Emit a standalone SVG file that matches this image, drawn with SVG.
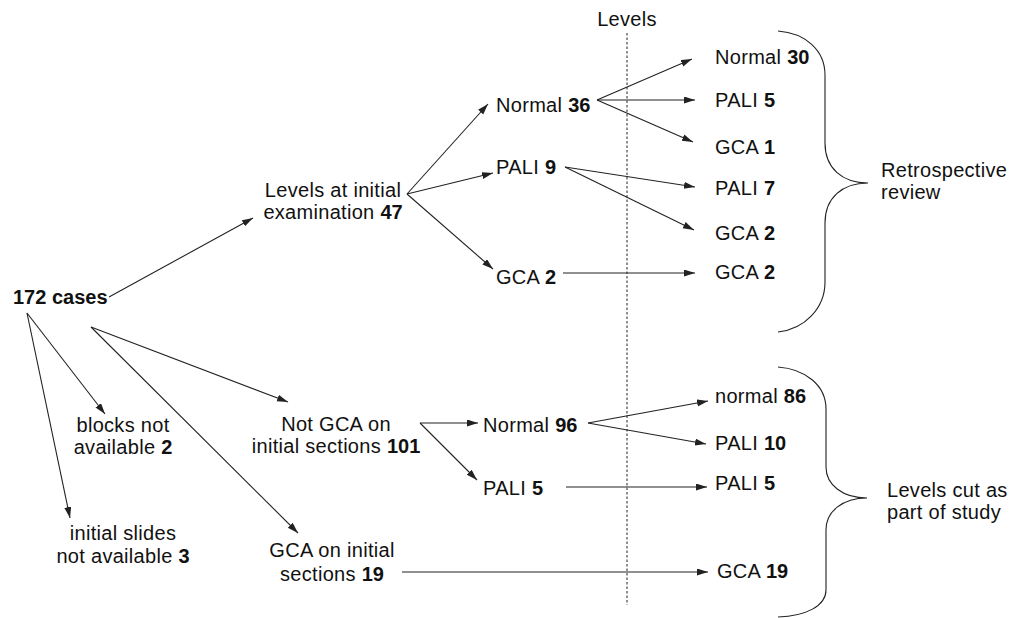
<svg xmlns="http://www.w3.org/2000/svg" width="1016" height="618" viewBox="0 0 1016 618">
<style>
text{font-family:"Liberation Sans",Arial,sans-serif;font-size:20px;fill:#111;letter-spacing:0.3px}
.b{font-weight:bold;letter-spacing:0}
.m{text-anchor:middle}
.c line{stroke:#222;stroke-width:1.1;marker-end:url(#ah)}
.brace{fill:none;stroke:#222;stroke-width:1.1}
</style>
<defs>
<marker id="ah" markerUnits="userSpaceOnUse" markerWidth="12" markerHeight="8" refX="11" refY="3.5" orient="auto">
<path d="M0,0 L11,3.5 L0,7 z" fill="#222"/>
</marker>
</defs>
<rect width="1016" height="618" fill="#fff"/>
<g id="levels-divider">
<line x1="627" y1="33" x2="627" y2="605" stroke="#222" stroke-width="1" stroke-dasharray="2.5 2"/>
<text x="627" y="26" class="m">Levels</text>
</g>
<g class="c" id="connectors">
<line x1="109" y1="297" x2="253" y2="218"/>
<line x1="27" y1="313" x2="105" y2="414"/>
<line x1="27" y1="313" x2="70" y2="518"/>
<line x1="91" y1="327" x2="288" y2="402"/>
<line x1="91" y1="327" x2="298" y2="533"/>
<line x1="407" y1="194" x2="488" y2="104"/>
<line x1="407" y1="194" x2="493" y2="173"/>
<line x1="407" y1="194" x2="493" y2="269"/>
<line x1="597" y1="100" x2="692" y2="59"/>
<line x1="597" y1="100" x2="695" y2="100"/>
<line x1="597" y1="100" x2="693" y2="142"/>
<line x1="565" y1="167" x2="695" y2="187"/>
<line x1="565" y1="167" x2="694" y2="230"/>
<line x1="563" y1="273" x2="695" y2="273"/>
<line x1="420" y1="423" x2="478" y2="423"/>
<line x1="420" y1="423" x2="477" y2="480"/>
<line x1="588" y1="423" x2="708" y2="401"/>
<line x1="588" y1="423" x2="706" y2="444"/>
<line x1="566" y1="487" x2="707" y2="487"/>
<line x1="402" y1="572" x2="708" y2="572"/>
</g>
<g id="n-cases"><text x="13" y="304" class="b">172 cases</text></g>
<g id="n-blocks"><text x="123" y="432" class="m">blocks not</text><text x="123" y="454" class="m">available <tspan class="b">2</tspan></text></g>
<g id="n-slides"><text x="123" y="540" class="m">initial slides</text><text x="123" y="563" class="m">not available <tspan class="b">3</tspan></text></g>
<g id="n-levels-initial"><text x="333" y="197" class="m">Levels at initial</text><text x="333" y="219" class="m">examination <tspan class="b">47</tspan></text></g>
<g id="n-not-gca"><text x="336" y="431" class="m">Not GCA on</text><text x="336" y="453" class="m">initial sections <tspan class="b">101</tspan></text></g>
<g id="n-gca-initial"><text x="332" y="557" class="m">GCA on initial</text><text x="332" y="581" class="m">sections <tspan class="b">19</tspan></text></g>
<g id="n-normal36"><text x="496" y="112">Normal <tspan class="b">36</tspan></text></g>
<g id="n-pali9"><text x="496" y="174">PALI <tspan class="b">9</tspan></text></g>
<g id="n-gca2a"><text x="496" y="284">GCA <tspan class="b">2</tspan></text></g>
<g id="n-normal96"><text x="483" y="432">Normal <tspan class="b">96</tspan></text></g>
<g id="n-pali5a"><text x="483" y="495">PALI <tspan class="b">5</tspan></text></g>
<g id="n-normal30"><text x="715" y="64">Normal <tspan class="b">30</tspan></text></g>
<g id="n-pali5b"><text x="715" y="107">PALI <tspan class="b">5</tspan></text></g>
<g id="n-gca1"><text x="715" y="154">GCA <tspan class="b">1</tspan></text></g>
<g id="n-pali7"><text x="715" y="195">PALI <tspan class="b">7</tspan></text></g>
<g id="n-gca2b"><text x="715" y="240">GCA <tspan class="b">2</tspan></text></g>
<g id="n-gca2c"><text x="715" y="279">GCA <tspan class="b">2</tspan></text></g>
<g id="n-normal86"><text x="715" y="403">normal <tspan class="b">86</tspan></text></g>
<g id="n-pali10"><text x="715" y="450">PALI <tspan class="b">10</tspan></text></g>
<g id="n-pali5c"><text x="715" y="490">PALI <tspan class="b">5</tspan></text></g>
<g id="n-gca19"><text x="717" y="578">GCA <tspan class="b">19</tspan></text></g>
<g id="brace-retro">
<path class="brace" d="M778,31 C805,33 825,50 825,75 L825,143 C825,168 842,183 868,183 C842,183 825,198 825,223 L825,282 C825,308 805,329 778,332"/>
<text x="881" y="177">Retrospective</text><text x="881" y="199">review</text>
</g>
<g id="brace-study">
<path class="brace" d="M778,367 C805,369 826,385 826,409 L826,467 C826,485 843,498 867,498 C843,498 826,511 826,530 L826,590 C826,606 806,616 778,617"/>
<text x="887" y="497">Levels cut as</text><text x="887" y="519">part of study</text>
</g>
</svg>
